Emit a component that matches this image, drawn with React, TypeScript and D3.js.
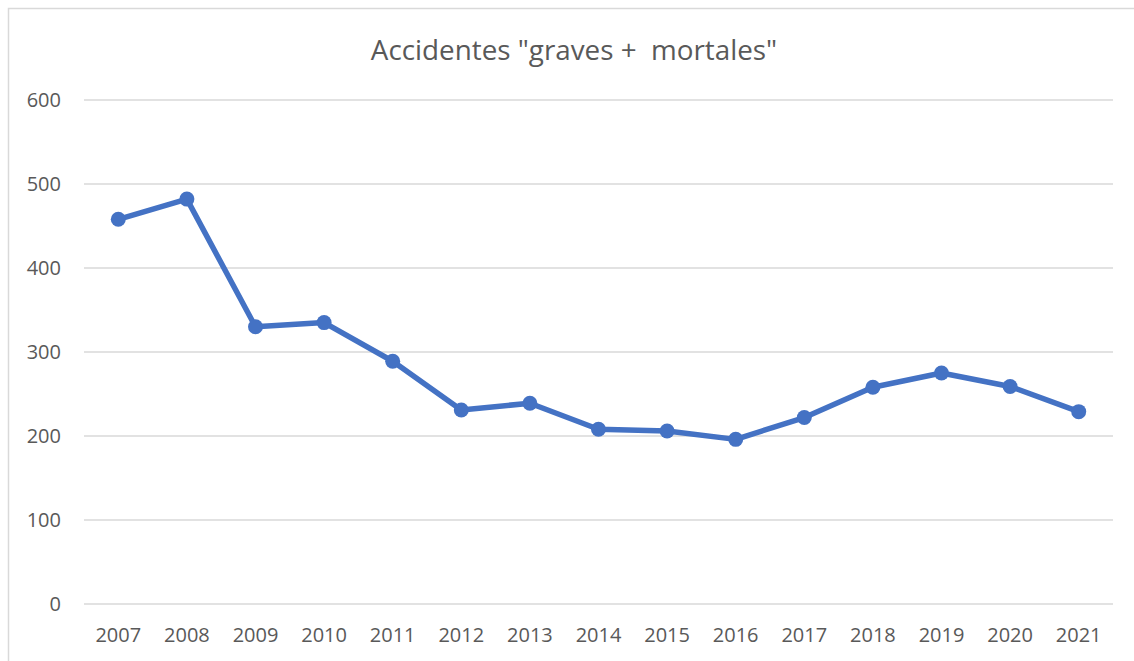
import React, { useEffect, useRef } from "react";
import * as d3 from "d3";

// chart data
const years = ["2007", "2008", "2009", "2010", "2011", "2012", "2013", "2014", "2015", "2016", "2017", "2018", "2019", "2020", "2021"];
const accidents = [458, 482, 330, 335, 289, 231, 239, 208, 206, 196, 222, 258, 275, 259, 229];
const yTicks = [0, 100, 200, 300, 400, 500, 600];
const title = 'Accidentes "graves +  mortales"';

const W = 1134;
const H = 661;

const App = () => {
  const ref = useRef<SVGSVGElement>(null);

  useEffect(() => {
    const svg = d3.select(ref.current);
    svg.selectAll("*").remove();

    const font = "'Open Sans', 'Liberation Sans', sans-serif";
    const textColor = "#595959";
    const gridColor = "#d9d9d9";

    // plot area
    const left = 84, right = 1113, top = 100, bottom = 604;

    // chart frame (runs off the right/bottom edge like the original)
    svg.append("rect")
      .attr("x", 8.5).attr("y", 8.5)
      .attr("width", W + 20).attr("height", H + 20)
      .attr("fill", "#fff")
      .attr("stroke", gridColor)
      .attr("stroke-width", 1.5);

    const x = d3.scaleBand().domain(years).range([left, right]);
    const y = d3.scaleLinear().domain([0, 600]).range([bottom, top]);

    // horizontal gridlines
    svg.append("g")
      .selectAll("line")
      .data(yTicks)
      .join("line")
      .attr("x1", left).attr("x2", right)
      .attr("y1", (d) => y(d)).attr("y2", (d) => y(d))
      .attr("stroke", gridColor)
      .attr("stroke-width", 1.5);

    // y labels
    svg.append("g")
      .selectAll("text")
      .data(yTicks)
      .join("text")
      .attr("x", 61)
      .attr("y", (d) => y(d))
      .attr("dy", "0.35em")
      .attr("text-anchor", "end")
      .style("font-family", font)
      .style("font-size", "20px")
      .attr("fill", textColor)
      .text((d) => d);

    // x labels
    svg.append("g")
      .selectAll("text")
      .data(years)
      .join("text")
      .attr("x", (d) => x(d)! + x.bandwidth() / 2)
      .attr("y", 635)
      .attr("dy", "0.35em")
      .attr("text-anchor", "middle")
      .style("font-family", font)
      .style("font-size", "20px")
      .attr("fill", textColor)
      .text((d) => d);

    // title
    svg.append("text")
      .attr("x", 574)
      .attr("y", 60)
      .attr("text-anchor", "middle")
      .style("font-family", font)
      .style("font-size", "27.8px")
      .style("white-space", "pre")
      .attr("fill", textColor)
      .text(title);

    const cx = (i: number) => x(years[i])! + x.bandwidth() / 2;

    const line = d3.line<number>()
      .x((d, i) => cx(i))
      .y((d) => y(d));

    svg.append("path")
      .datum(accidents)
      .attr("fill", "none")
      .attr("stroke", "#4472c4")
      .attr("stroke-width", 5.5)
      .attr("stroke-linejoin", "round")
      .attr("d", line);

    svg.append("g")
      .selectAll("circle")
      .data(accidents)
      .join("circle")
      .attr("cx", (d, i) => cx(i))
      .attr("cy", (d) => y(d))
      .attr("r", 7.5)
      .attr("fill", "#4472c4");
  }, []);

  return (
    <svg
      ref={ref}
      width={W}
      height={H}
      style={{ position: "absolute", left: 0, top: 0, display: "block" }}
    />
  );
};

export default App;
